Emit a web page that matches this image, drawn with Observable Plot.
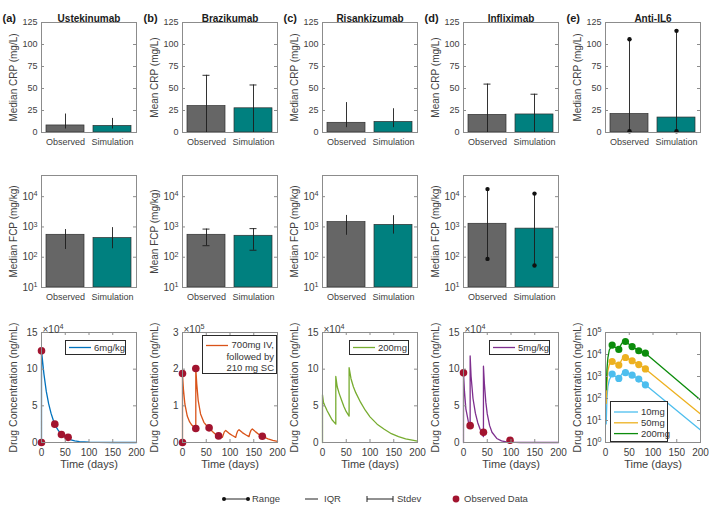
<!DOCTYPE html>
<html><head><meta charset="utf-8">
<script src="https://cdn.jsdelivr.net/npm/d3@7"></script>
<script src="https://cdn.jsdelivr.net/npm/@observablehq/plot@0.6"></script>
<style>
html,body{margin:0;padding:0;background:#fff;}
#fig{position:relative;width:709px;height:516px;overflow:hidden;font-family:"Liberation Sans",Arial,Helvetica,sans-serif;color:#404040;background:#fff;}
#fig .p{position:absolute;}
#fig svg{overflow:visible;}
.leg{position:absolute;box-sizing:border-box;border:1px solid #2a2a2a;background:#fff;font-size:9.5px;color:#333;}
.leg span{position:absolute;white-space:nowrap;}
</style></head><body><div id="fig"></div>
<script>
// ---------------- DATA ----------------
const drugs = ["Ustekinumab","Brazikumab","Risankizumab","Infliximab","Anti-IL6"];
const letters = ["(a)","(b)","(c)","(d)","(e)"];
const groups = ["Observed","Simulation"];

// Row 1: CRP
const crpLabels = ["Median CRP (mg/L)","Mean CRP (mg/L)","Median CRP (mg/L)","Mean CRP (mg/L)","Median CRP (mg/L)"];
const crpTicks = [0,25,50,75,100,125];
const crpValue = [[8,7.5],[30,27.5],[11,12],[20,20.5],[21,17]];
const crpLow   = [[4,4],[-5,-1],[5.5,5.5],[-15,-2.5],[1.5,1.5]];
const crpHigh  = [[21,16],[65,54],[34,27],[55,43.5],[106,115.5]];
const crpErr   = ["IQR","Stdev","IQR","Stdev","Range"];

// Row 2: FCP
const fcpLabels = ["Median FCP (mg/kg)","Mean FCP (mg/kg)","Median FCP (mg/kg)","Median FCP (mg/kg)"];
const fcpTicks = [10,100,1000,10000];
const fcpTickLabels = ["10^1","10^2","10^3","10^4"];
const fcpValue = [[550,430],[550,510],[1440,1170],[1270,880]];
const fcpLow   = [[180,190],[240,170],[530,580],[88,53]];
const fcpHigh  = [[820,950],[850,880],[2400,2350],[17800,12600]];
const fcpErr   = ["IQR","Stdev","IQR","Range"];

// Row 3: drug concentration
const timeTicks = [0,50,100,150,200];
const concLabel = "Drug Concentration (ng/mL)";
const timeLabel = "Time (days)";

// (a) Ustekinumab, x10^4
const ustTime = [0,0,5,10,15,20,25,30,35,40,50,60,70,80,100,120,150,200];
const ustConc = [0,12.5,9.4,7.0,5.3,4.0,3.0,2.2,1.7,1.25,0.7,0.4,0.22,0.12,0.04,0.01,0,0];
const ustObsT = [0,0,28,42,56];
const ustObsC = [0,12.5,2.5,1.1,0.7];
const ustDose = ["6mg/kg"];

// (b) Brazikumab, x10^5
const brzTime = [0,0,2,5,10,15,20,28,28,30,33,38,45,50,56,63,70,76,84,86,88,91,98,105,112,114,116,119,126,133,140,142,144,147,154,161,168,180,190,200];
const brzConc = [0,1.85,1.45,1.05,0.72,0.56,0.47,0.38,2.02,1.6,1.15,0.78,0.55,0.47,0.4,0.3,0.22,0.18,0.14,0.22,0.29,0.33,0.25,0.19,0.14,0.24,0.31,0.35,0.27,0.21,0.16,0.26,0.33,0.37,0.29,0.22,0.17,0.1,0.06,0.03];
const brzObsT = [0,0,28,28,56,76,168];
const brzObsC = [0,1.88,0.38,2.02,0.4,0.18,0.17];
const brzDose = ["700mg IV,","followed by","210 mg SC"];

// (c) Risankizumab, x10^4
const risTime = [0,0,2,5,10,15,20,28,28,31,35,40,45,50,56,56,60,65,70,80,90,100,115,130,145,160,175,200];
const risConc = [0,6.5,5.5,5.0,4.3,3.7,3.1,2.5,9.0,7.6,6.7,5.8,4.9,4.2,3.6,10.2,8.7,7.6,6.8,5.5,4.4,3.5,2.5,1.8,1.2,0.8,0.5,0.2];
const risDose = ["200mg"];

// (d) Infliximab, x10^4
const infTime = [0,0,2,5,10,14,14,16,20,25,30,35,42,42,44,47,50,55,60,70,80,90,100,120,200];
const infConc = [0,9.5,7.0,4.6,2.9,2.2,11.8,9.0,6.0,4.0,2.7,1.8,0.8,10.4,8.0,5.5,3.9,2.3,1.4,0.55,0.22,0.09,0.04,0,0];
const infObsT = [0,14,42,98];
const infObsC = [9.5,2.3,1.4,0.3];
const infDose = ["5mg/kg"];

// (e) Anti-IL6 (log scale)
const il6Doses = ["10mg","50mg","200mg"];
const il6Time = [1.5,3,5,8,14,21,28,31,35,42,49,56,63,70,77,84,200];
const il6Conc10  = [7,100,350,700,1300,1000,820,1000,1350,1500,1350,1150,950,760,580,420,3.7];
const il6Conc50  = [60,500,1800,3500,4800,3900,3300,4200,6300,7300,6200,5200,4300,3500,2800,2200,19.6];
const il6Conc200 = [250,2000,7000,16000,26700,21000,17000,24000,34000,39000,30000,23000,18500,14800,13000,11500,85];
const il6ObsT = [14,28,42,56,70,84];
const il6Obs10  = [1300,820,1500,1150,760,420];
const il6Obs50  = [4800,3300,7300,5200,3500,2200];
const il6Obs200 = [26700,17000,39000,23000,14800,11500];
const il6Ticks = [1,10,100,1000,10000,100000];
const il6TickLabels = ["10^0","10^1","10^2","10^3","10^4","10^5"];

const legendItems = ["Range","IQR","Stdev","Observed Data"];

// ---------------- STYLE / LAYOUT ----------------
const FONT = '"Liberation Sans", Arial, Helvetica, sans-serif';
const TXT = "#404040";
const FRAME = "#8c8c8c";
const OBS = "#666666", SIM = "#00807f", EDGE = "#2e2e2e", ERR = "#1c1c1c";
const RED = "#A2142F";
const lineColors = ["#0072BD","#D95319","#77AC30","#7E2F8E"];
const il6Colors = ["#4DBEEE","#EDB120","#0c8c0c"];
const fig = document.getElementById("fig");
const colLeft = [41,182,322,463,605];
const FW = 95;
const rowTop = [22,175,332];
const rowH = [110,112,110];
const ML = 46, MR = 8, MT = 30, MB = 34;
const BW = FW * 0.8 / 2; // bandwidth

function supify(root){
  root.querySelectorAll("text, tspan").forEach(t => {
    if (t.childElementCount) return;
    const m = /^(.*)\^(\d+)$/.exec(t.textContent);
    if (!m) return;
    t.textContent = m[1];
    const sp = document.createElementNS("http://www.w3.org/2000/svg","tspan");
    sp.setAttribute("dy","-0.5em");
    sp.setAttribute("font-size","0.72em");
    sp.textContent = m[2];
    t.appendChild(sp);
  });
}
function place(svg, col, row){
  supify(svg);
  const w = document.createElement("div");
  w.className = "p";
  w.style.left = (colLeft[col] - ML) + "px";
  w.style.top = (rowTop[row] - MT) + "px";
  w.appendChild(svg);
  fig.appendChild(w);
}
function plotOpts(row, o){
  return Object.assign({
    width: ML + FW + MR, height: MT + rowH[row] + MB,
    marginLeft: ML, marginRight: MR, marginTop: MT, marginBottom: MB,
    style: {background: "transparent", fontFamily: FONT, fontSize: "9px", color: TXT, overflow: "visible"}
  }, o);
}
function innerY(ticks){
  return [
    Plot.tickY(ticks, {y: d => d, insetRight: FW - 3, stroke: FRAME}),
    Plot.tickY(ticks, {y: d => d, insetLeft: FW - 3, stroke: FRAME})
  ];
}
function innerX(ticks, h){
  return [
    Plot.tickX(ticks, {x: d => d, insetTop: h - 3, stroke: FRAME}),
    Plot.tickX(ticks, {x: d => d, insetBottom: h - 3, stroke: FRAME})
  ];
}
function yLabel(txt, size){
  return Plot.text([txt], {text: d => d, frameAnchor: "left", rotate: -90, dx: -28, textAnchor: "middle", lineAnchor: "middle", fontSize: size, fill: TXT});
}
function errMarks(data, type){
  const m = [Plot.ruleX(data, {x: "group", y1: "low", y2: "high", stroke: ERR, strokeWidth: 0.9, clip: true})];
  const inset = (BW - 7) / 2;
  if (type === "Stdev") {
    m.push(Plot.tickY(data, {x: "group", y: "high", insetLeft: inset, insetRight: inset, stroke: ERR, strokeWidth: 0.9, clip: true}));
    m.push(Plot.tickY(data, {x: "group", y: "low", insetLeft: inset, insetRight: inset, stroke: ERR, strokeWidth: 0.9, clip: true}));
  }
  if (type === "Range") {
    m.push(Plot.dot(data, {x: "group", y: "high", r: 2.2, fill: "#111"}));
    m.push(Plot.dot(data, {x: "group", y: "low", r: 2.2, fill: "#111"}));
  }
  return m;
}
const barFill = d => d.group === "Observed" ? OBS : SIM;
const xBand = {domain: groups, paddingInner: 0.2, paddingOuter: 0.1};

// ---------------- ROW 1 ----------------
drugs.forEach((drug, i) => {
  const data = groups.map((g, j) => ({group: g, value: crpValue[i][j], low: crpLow[i][j], high: crpHigh[i][j]}));
  const svg = Plot.plot(plotOpts(0, {
    x: xBand,
    y: {domain: [0, 125]},
    color: {type: "identity"},
    marks: [
      Plot.barY(data, {x: "group", y: "value", fill: barFill, stroke: EDGE, strokeWidth: 0.7}),
      ...errMarks(data, crpErr[i]),
      Plot.frame({stroke: FRAME}),
      ...innerY(crpTicks),
      Plot.axisX({tickSize: 0, tickPadding: 6, label: null}),
      Plot.axisY({ticks: crpTicks, tickFormat: d => String(d), tickSize: 0, tickPadding: 4, label: null}),
      yLabel(crpLabels[i], 10),
      Plot.text([drug], {text: d => d, frameAnchor: "top", dy: -8, fontWeight: "bold", fontSize: 10, fill: "#1a1a1a"}),
      Plot.text([letters[i]], {text: d => d, frameAnchor: "top-left", dx: -39, dy: -8, textAnchor: "start", fontWeight: "bold", fontSize: 11, fill: "#1a1a1a"})
    ]
  }));
  place(svg, i, 0);
});

// ---------------- ROW 2 ----------------
fcpLabels.forEach((lab, i) => {
  const data = groups.map((g, j) => ({group: g, value: fcpValue[i][j], low: fcpLow[i][j], high: fcpHigh[i][j]}));
  const svg = Plot.plot(plotOpts(1, {
    x: xBand,
    y: {type: "log", domain: [10, 50000]},
    color: {type: "identity"},
    marks: [
      Plot.barY(data, {x: "group", y1: () => 10, y2: "value", fill: barFill, stroke: EDGE, strokeWidth: 0.7}),
      ...errMarks(data, fcpErr[i]),
      Plot.frame({stroke: FRAME}),
      ...innerY(fcpTicks),
      Plot.axisX({tickSize: 0, tickPadding: 6, label: null}),
      Plot.axisY({ticks: fcpTicks, tickFormat: d => fcpTickLabels[fcpTicks.indexOf(d)], tickSize: 0, tickPadding: 4, label: null, fontSize: 10}),
      yLabel(lab, 10)
    ]
  }));
  place(svg, i, 1);
});

// ---------------- ROW 3 ----------------
const zip = (t, v) => t.map((d, k) => ({t: d, v: v[k]}));
const concPanels = [
  {line: zip(ustTime, ustConc), obs: zip(ustObsT, ustObsC), dom: [0,15], ticks: [0,5,10,15], exp: "×10^4"},
  {line: zip(brzTime, brzConc), obs: zip(brzObsT, brzObsC), dom: [0,3], ticks: [0,1,2,3], exp: "×10^5"},
  {line: zip(risTime, risConc), obs: [], dom: [0,15], ticks: [0,5,10,15], exp: "×10^4"},
  {line: zip(infTime, infConc), obs: zip(infObsT, infObsC), dom: [0,15], ticks: [0,5,10,15], exp: "×10^4"}
];
concPanels.forEach((p, i) => {
  const svg = Plot.plot(plotOpts(2, {
    x: {domain: [0, 200]},
    y: {domain: p.dom},
    marks: [
      Plot.line(p.line, {x: "t", y: "v", stroke: lineColors[i], strokeWidth: 1.3}),
      Plot.dot(p.obs, {x: "t", y: "v", r: 3.8, fill: RED}),
      Plot.frame({stroke: FRAME}),
      ...innerY(p.ticks),
      ...innerX(timeTicks, rowH[2]),
      Plot.axisX({ticks: timeTicks, tickFormat: d => String(d), tickSize: 0, tickPadding: 6, label: null, fontSize: 10}),
      Plot.axisY({ticks: p.ticks, tickFormat: d => String(d), tickSize: 0, tickPadding: 4, label: null, fontSize: 10}),
      yLabel(concLabel, 10.5),
      Plot.text([timeLabel], {text: d => d, frameAnchor: "bottom", dy: 25, fontSize: 11, fill: TXT}),
      Plot.text([p.exp], {text: d => d, frameAnchor: "top-left", dx: 1, dy: -7, textAnchor: "start", fontSize: 10, fill: TXT})
    ]
  }));
  place(svg, i, 2);
});

// (e) Anti-IL6
{
  const series = [il6Conc10, il6Conc50, il6Conc200];
  const obs = [il6Obs10, il6Obs50, il6Obs200];
  const lines = series.map((s, k) => Plot.line(zip(il6Time, s), {x: "t", y: "v", stroke: il6Colors[k], strokeWidth: 1.3}));
  const dots = obs.map((s, k) => Plot.dot(zip(il6ObsT, s), {x: "t", y: "v", r: 3.6, fill: il6Colors[k]}));
  const svg = Plot.plot(plotOpts(2, {
    x: {domain: [0, 200]},
    y: {type: "log", domain: [1, 100000]},
    marks: [
      ...lines, ...dots,
      Plot.frame({stroke: FRAME}),
      ...innerY(il6Ticks),
      ...innerX(timeTicks, rowH[2]),
      Plot.axisX({ticks: timeTicks, tickFormat: d => String(d), tickSize: 0, tickPadding: 6, label: null, fontSize: 10}),
      Plot.axisY({ticks: il6Ticks, tickFormat: d => il6TickLabels[il6Ticks.indexOf(d)], tickSize: 0, tickPadding: 4, label: null, fontSize: 10}),
      yLabel(concLabel, 10.5),
      Plot.text([timeLabel], {text: d => d, frameAnchor: "bottom", dy: 25, fontSize: 11, fill: TXT})
    ]
  }));
  place(svg, 4, 2);
}

// ---------------- LEGEND BOXES (row 3) ----------------
function simpleLegend(left, top, w, label, color){
  const d = document.createElement("div");
  d.className = "leg";
  Object.assign(d.style, {left: left + "px", top: top + "px", width: w + "px", height: "15px"});
  d.innerHTML = `<svg width="26" height="13" style="position:absolute;left:0;top:0"><line x1="3" x2="25" y1="6.5" y2="6.5" stroke="${color}" stroke-width="1.3"/></svg><span style="left:28px;top:0;line-height:13px">${label}</span>`;
  fig.appendChild(d);
}
simpleLegend(65, 340, 61, ustDose[0], lineColors[0]);
simpleLegend(349, 340, 60, risDose[0], lineColors[2]);
simpleLegend(489, 340, 61, infDose[0], lineColors[3]);
{
  const d = document.createElement("div");
  d.className = "leg";
  Object.assign(d.style, {left: "202px", top: "335px", width: "75px", height: "39px"});
  d.innerHTML = `<svg width="26" height="20" style="position:absolute;left:0;top:0"><line x1="3" x2="25" y1="9.5" y2="9.5" stroke="${lineColors[1]}" stroke-width="1.3"/></svg><span style="right:2px;top:3px;line-height:11.5px;text-align:right">${brzDose.join("<br>")}</span>`;
  fig.appendChild(d);
}
{
  const d = document.createElement("div");
  d.className = "leg";
  Object.assign(d.style, {left: "610px", top: "401px", width: "58px", height: "41px"});
  let html = `<svg width="30" height="40" style="position:absolute;left:0;top:0">`;
  il6Doses.forEach((lab, k) => { const y = 10 + k * 10.8; html += `<line x1="3" x2="27" y1="${y}" y2="${y}" stroke="${il6Colors[k]}" stroke-width="1.3"/>`; });
  html += `</svg>`;
  il6Doses.forEach((lab, k) => { const y = 10 + k * 10.8; html += `<span style="left:30px;top:${y - 6}px;line-height:12px">${lab}</span>`; });
  d.innerHTML = html;
  fig.appendChild(d);
}

// ---------------- BOTTOM LEGEND ----------------
{
  const ns = "http://www.w3.org/2000/svg";
  const s = document.createElementNS(ns, "svg");
  s.setAttribute("width", 709); s.setAttribute("height", 20);
  s.style.position = "absolute"; s.style.left = "0px"; s.style.top = "489px";
  const y = 10;
  s.innerHTML = `
   <line x1="224" x2="248" y1="${y}" y2="${y}" stroke="#222" stroke-width="1"/>
   <circle cx="224" cy="${y}" r="2" fill="#111"/><circle cx="248" cy="${y}" r="2" fill="#111"/>
   <text x="252" y="${y}" dy="0.35em" font-size="9.5" fill="${TXT}" font-family='${FONT}'>${legendItems[0]}</text>
   <line x1="305" x2="318" y1="${y}" y2="${y}" stroke="#222" stroke-width="1"/>
   <text x="324" y="${y}" dy="0.35em" font-size="9.5" fill="${TXT}" font-family='${FONT}'>${legendItems[1]}</text>
   <line x1="367" x2="393" y1="${y}" y2="${y}" stroke="#222" stroke-width="1"/>
   <line x1="367" x2="367" y1="${y-3}" y2="${y+3}" stroke="#222" stroke-width="1"/>
   <line x1="393" x2="393" y1="${y-3}" y2="${y+3}" stroke="#222" stroke-width="1"/>
   <text x="397" y="${y}" dy="0.35em" font-size="9.5" fill="${TXT}" font-family='${FONT}'>${legendItems[2]}</text>
   <circle cx="456" cy="${y}" r="3.4" fill="${RED}"/>
   <text x="464" y="${y}" dy="0.35em" font-size="9.5" fill="${TXT}" font-family='${FONT}'>${legendItems[3]}</text>`;
  fig.appendChild(s);
}
</script></body></html>
